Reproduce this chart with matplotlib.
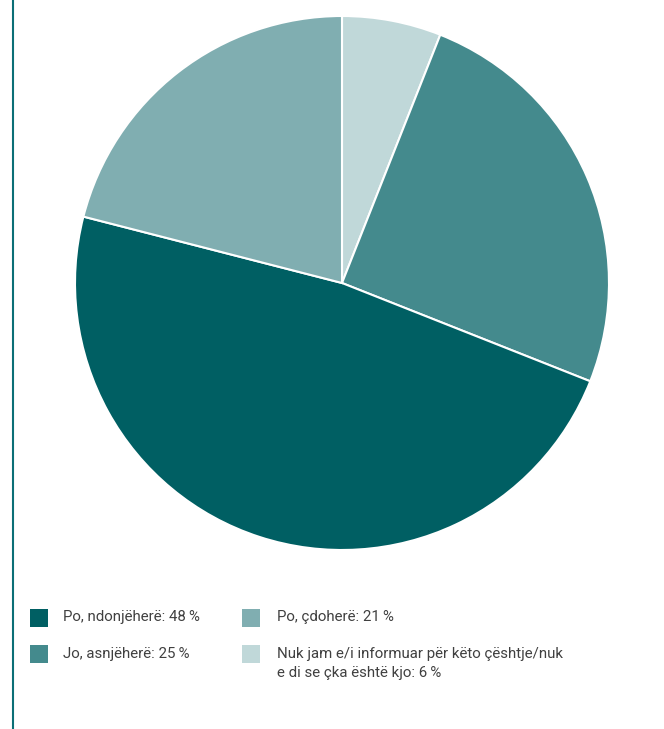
import matplotlib
matplotlib.use("Agg")
import matplotlib.pyplot as plt
from matplotlib.patches import Rectangle
from matplotlib.lines import Line2D

plt.rcParams['font.family'] = ['Roboto', 'DejaVu Sans']

# Data (pie order, clockwise from top)
slice_labels = ["Nuk jam e/i informuar për këto çështje/nuk\ne di se çka është kjo", "Jo, asnjëherë", "Po, ndonjëherë", "Po, çdoherë"]
slice_values = [6, 25, 48, 21]
slice_colors = ["#c0d8d9", "#448a8d", "#005f63", "#80aeb1"]

# Legend order
legend_order = [2, 3, 1, 0]

W, H = 664, 729
fig = plt.figure(figsize=(W / 100, H / 100), dpi=100)

cx, cy, r = 342, 283, 267
ax = fig.add_axes([(cx - r) / W, (H - cy - r) / H, 2 * r / W, 2 * r / H])
ax.pie(slice_values, colors=slice_colors, startangle=90, counterclock=False,
       radius=1, wedgeprops=dict(edgecolor="white", linewidth=1.5))
ax.set_xlim(-1, 1)
ax.set_ylim(-1, 1)
ax.set_aspect("equal")
ax.axis("off")

# left vertical rule
fig.add_artist(Line2D([12.5 / W, 12.5 / W], [0, 1], color="#0b6f76", linewidth=1.5,
                      transform=fig.transFigure))

# legend drawn manually: (square x, text x, square top y, first baseline y)
positions = [(30, 63, 609, 621), (242, 277, 609, 621), (30, 63, 645, 658), (242, 277, 645, 658)]
line_step = 18.5
for (sx, tx, sy, by), idx in zip(positions, legend_order):
    fig.add_artist(Rectangle((sx / W, (H - sy - 18) / H), 18 / W, 18 / H,
                             facecolor=slice_colors[idx], edgecolor="none",
                             transform=fig.transFigure))
    text = f"{slice_labels[idx]}: {slice_values[idx]}\u2009%"
    for k, line in enumerate(text.split("\n")):
        fig.text(tx / W, (H - (by + k * line_step)) / H, line,
                 ha="left", va="baseline", fontsize=10.8, color="#404040")

fig.savefig("out.png", dpi=100)
